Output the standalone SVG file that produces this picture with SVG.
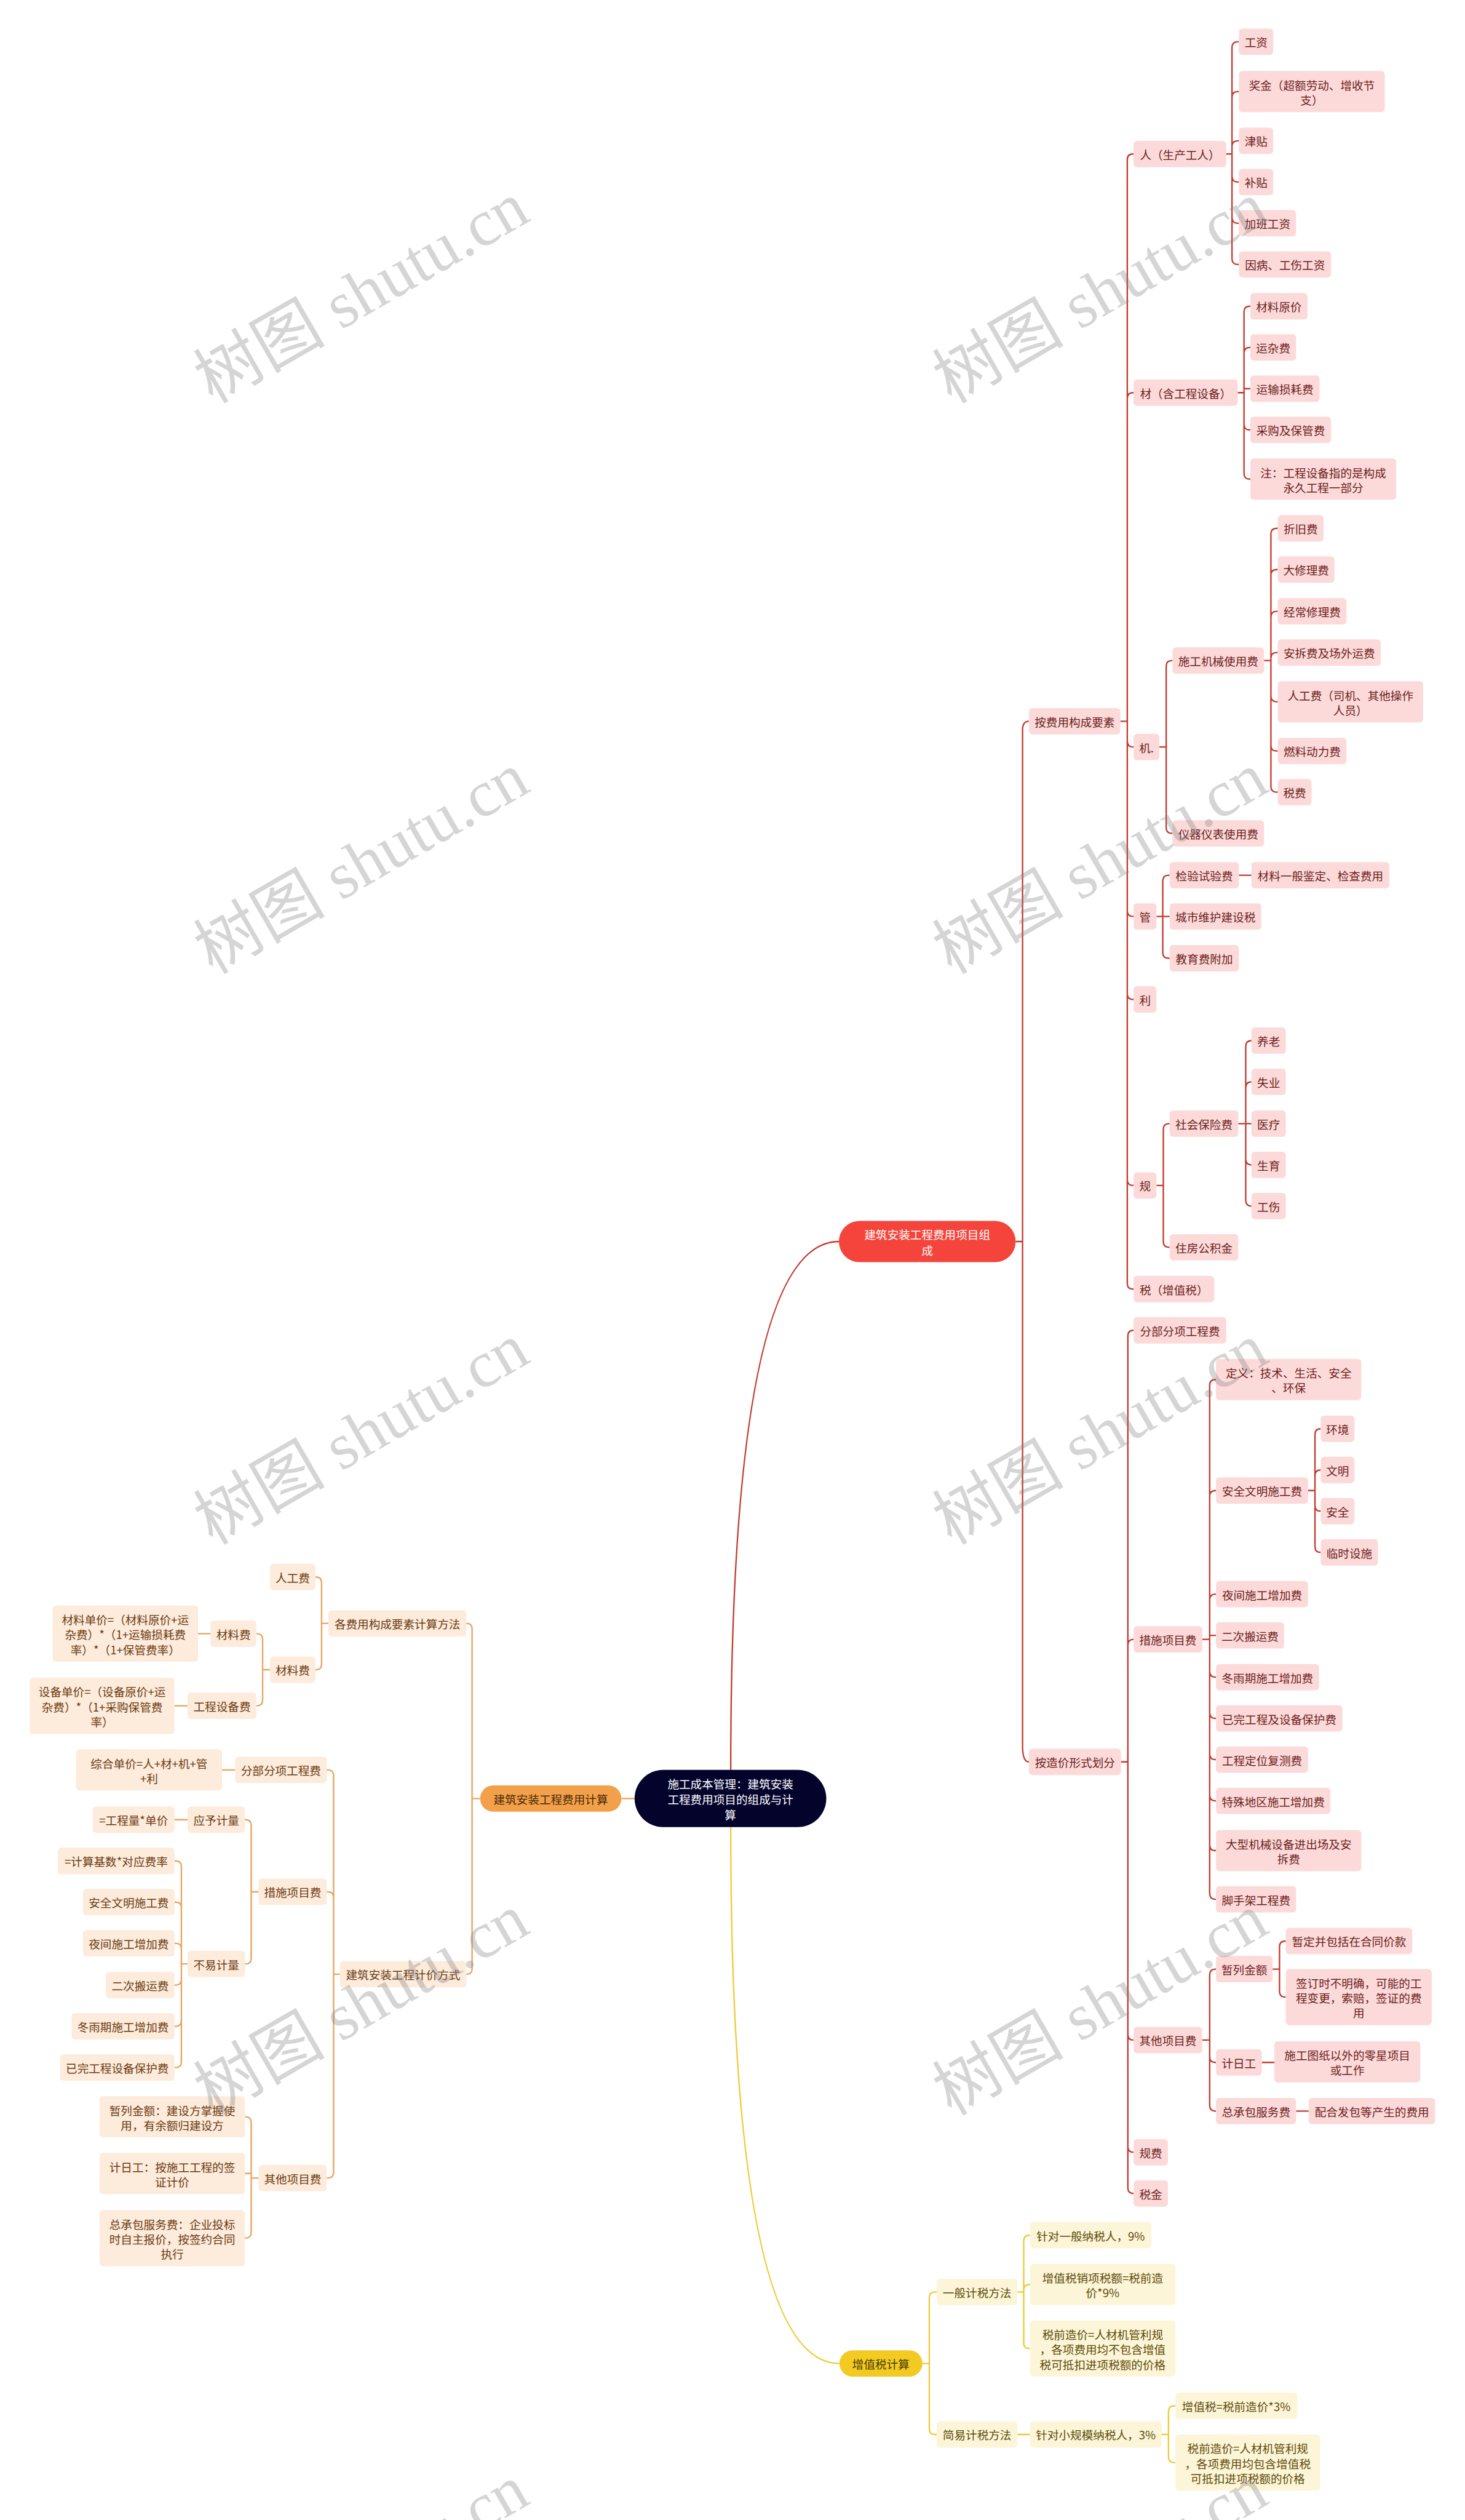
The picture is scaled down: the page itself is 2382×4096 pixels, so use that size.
<svg xmlns="http://www.w3.org/2000/svg" width="2382" height="4096" viewBox="0 0 2382 4096">
<style>
text{font-family:"Noto Sans CJK SC","Noto Sans",sans-serif;font-size:20px;text-anchor:middle;dominant-baseline:central}
.pk rect,.or rect,.ye rect{rx:6px;ry:6px}
.pk rect{fill:#FCDADA}.pk text{fill:#6B1D1B}
.or rect{fill:#FDEBDB}.or text{fill:#6A3A12}
.ye rect{fill:#FDF5D7}.ye text{fill:#5A4A08}
.lr{fill:none;stroke:#C23A30;stroke-width:2.5}
.lo{fill:none;stroke:#E8A45E;stroke-width:2.5}
.ly{fill:none;stroke:#EDCB35;stroke-width:2.5}
.wm{font-family:"Liberation Serif","Noto Sans CJK SC",serif;font-size:115px;fill:#808080;fill-opacity:0.33;dominant-baseline:auto}
</style>
<rect width="2382" height="4096" fill="#FFFFFF"/>
<g transform="scale(0.9304)">
<g id="connectors">
<path class="lr" d="M1277,3092Q1277,2169 1466,2169"/>
<path class="ly" d="M1277,3192Q1277,4129 1467,4129"/>
<path class="lo" d="M1109,3142H1086"/>
<path class="lr" d="M1775,2169H1787V1275Q1787,1260 1798,1260 M1787,2169V3050Q1787,3078 1798,3078"/>
<path class="lr" d="M1958,1260H1970V279Q1970,269 1980,269H1981 M1970,1260V696Q1970,686 1980,686H1981 M1970,1260V1295Q1970,1305 1980,1305H1981 M1970,1260V1591Q1970,1601 1980,1601H1981 M1970,1260V1736Q1970,1746 1980,1746H1981 M1970,1260V2061Q1970,2071 1980,2071H1981 M1970,1260V2242Q1970,2252 1980,2252H1981"/>
<path class="lr" d="M2143,269H2153V83Q2153,73 2163,73H2165 M2153,269V170Q2153,160 2163,160H2165 M2153,269V256Q2153,246 2163,246H2165 M2153,269V308Q2153,318 2163,318H2165 M2153,269V380Q2153,390 2163,390H2165 M2153,269V452Q2153,462 2163,462H2165"/>
<path class="lr" d="M2163,686H2174V545Q2174,535 2184,535H2185 M2174,686V617Q2174,607 2184,607H2185 M2174,686V679H2185 M2174,686V741Q2174,751 2184,751H2185 M2174,686V827Q2174,837 2184,837H2185"/>
<path class="lr" d="M2026,1305H2038V1164Q2038,1154 2048,1154H2049 M2038,1305V1446Q2038,1456 2048,1456H2049"/>
<path class="lr" d="M2209,1154H2221V933Q2221,923 2231,923H2233 M2221,1154V1005Q2221,995 2231,995H2233 M2221,1154V1078Q2221,1068 2231,1068H2233 M2221,1154V1150Q2221,1140 2231,1140H2233 M2221,1154V1216Q2221,1226 2231,1226H2233 M2221,1154V1302Q2221,1312 2231,1312H2233 M2221,1154V1374Q2221,1384 2231,1384H2233"/>
<path class="lr" d="M2021,1601H2032V1539Q2032,1529 2042,1529H2044 M2021,1601H2044 M2032,1601V1664Q2032,1674 2042,1674H2044 M2165,1529H2187"/>
<path class="lr" d="M2021,2071H2033V1973Q2033,1963 2043,1963H2044 M2033,2071V2169Q2033,2179 2043,2179H2044"/>
<path class="lr" d="M2164,1963H2177V1828Q2177,1818 2187,1818 M2177,1963V1900Q2177,1890 2187,1890 M2164,1963H2187 M2177,1963V2025Q2177,2035 2187,2035 M2177,1963V2097Q2177,2107 2187,2107"/>
<path class="lr" d="M1959,3078H1971V2334Q1971,2324 1981,2324 M1971,3078V2874Q1971,2864 1981,2864 M1971,3078V3554Q1971,3564 1981,3564 M1971,3078V3750Q1971,3760 1981,3760 M1971,3078V3822Q1971,3832 1981,3832"/>
<path class="lr" d="M2101,2864H2114V2420Q2114,2410 2124,2410H2125 M2114,2864V2614Q2114,2604 2124,2604H2125 M2114,2864V2795Q2114,2785 2124,2785H2125 M2114,2864V2857H2125 M2114,2864V2920Q2114,2930 2124,2930H2125 M2114,2864V2992Q2114,3002 2124,3002H2125 M2114,2864V3064Q2114,3074 2124,3074H2125 M2114,2864V3136Q2114,3146 2124,3146H2125 M2114,2864V3223Q2114,3233 2124,3233H2125 M2114,2864V3308Q2114,3318 2124,3318H2125"/>
<path class="lr" d="M2286,2604H2298V2506Q2298,2496 2308,2496 M2298,2604V2578Q2298,2568 2308,2568 M2298,2604V2630Q2298,2640 2308,2640 M2298,2604V2702Q2298,2712 2308,2712"/>
<path class="lr" d="M2101,3564H2114V3450Q2114,3440 2124,3440H2125 M2114,3564V3593Q2114,3603 2124,3603H2125 M2114,3564V3678Q2114,3688 2124,3688H2125"/>
<path class="lr" d="M2224,3440H2236V3401Q2236,3391 2246,3391H2247 M2236,3440V3479Q2236,3489 2246,3489H2247 M2205,3603H2227 M2265,3688H2287"/>
<path class="ly" d="M1612,4129H1624V4014Q1624,4004 1634,4004H1637 M1624,4129V4243Q1624,4253 1634,4253H1637"/>
<path class="ly" d="M1778,4004H1789V3915Q1789,3905 1799,3905H1800 M1789,4004V4001Q1789,3991 1799,3991H1800 M1789,4004V4093Q1789,4103 1799,4103H1800 M1778,4253H1800"/>
<path class="ly" d="M2030,4253H2042V4213Q2042,4203 2052,4203H2054 M2042,4253V4292Q2042,4302 2052,4302H2054"/>
<path class="lo" d="M839,3142H825V2846Q825,2836 815,2836 M825,3142V3439Q825,3449 815,3449"/>
<path class="lo" d="M574,2836H562V2765Q562,2755 552,2755H551 M562,2836V2907Q562,2917 552,2917H551"/>
<path class="lo" d="M472,2917H459V2864Q459,2854 449,2854H448 M459,2917V2970Q459,2980 449,2980H448 M368,2854H346 M328,2980H305"/>
<path class="lo" d="M594,3449H583V3102Q583,3092 573,3092H571 M583,3449V3315Q583,3305 573,3305H571 M583,3449V3795Q583,3805 573,3805H571 M411,3092H388"/>
<path class="lo" d="M452,3305H439V3189Q439,3179 429,3179H428 M439,3305V3421Q439,3431 429,3431H428 M328,3179H305"/>
<path class="lo" d="M328,3431H317V3261Q317,3251 307,3251H305 M317,3431V3333Q317,3323 307,3323H305 M317,3431V3405Q317,3395 307,3395H305 M317,3431V3458Q317,3468 307,3468H305 M317,3431V3530Q317,3540 307,3540H305 M317,3431V3602Q317,3612 307,3612H305"/>
<path class="lo" d="M452,3805H439V3708Q439,3698 429,3698H428 M439,3805V3797H428 M439,3805V3900Q439,3910 429,3910H428"/>
</g>

<g id="n_root"><rect x="1109" y="3092" width="335" height="100" rx="50" fill="#03032B"/><text fill="#FFFFFF"><tspan x="1276.5" y="3115">施工成本管理：建筑安装</tspan><tspan x="1276.5" y="3142">工程费用项目的组成与计</tspan><tspan x="1276.5" y="3169">算</tspan></text></g>
<g id="n_red"><rect x="1466" y="2133" width="309" height="72" rx="36" fill="#F5443B"/><text fill="#FFFFFF"><tspan x="1620.5" y="2155.5">建筑安装工程费用项目组</tspan><tspan x="1620.5" y="2182.5">成</tspan></text></g>
<g id="n_org"><rect x="839" y="3119" width="247" height="46" rx="23" fill="#F2A14A"/><text x="962.5" y="3142" fill="#4A2808">建筑安装工程费用计算</text></g>
<g id="n_yel"><rect x="1467" y="4106" width="145" height="46" rx="23" fill="#F2CA22"/><text x="1539.5" y="4129" fill="#4A3A00">增值税计算</text></g>

<g class="pk">
<g id="n1"><rect x="1798" y="1237" width="160" height="46"/><text x="1878" y="1260">按费用构成要素</text></g>
<g id="n2"><rect x="1981" y="246" width="162" height="46"/><text x="2062" y="269">人（生产工人）</text></g>
<g id="n3"><rect x="2165" y="50" width="60" height="46"/><text x="2195" y="73">工资</text></g>
<g id="n4"><rect x="2165" y="124" width="255" height="72"/><text><tspan x="2292.5" y="147">奖金（超额劳动、增收节</tspan><tspan x="2292.5" y="173">支）</tspan></text></g>
<g id="n5"><rect x="2165" y="223" width="60" height="46"/><text x="2195" y="246">津贴</text></g>
<g id="n6"><rect x="2165" y="295" width="60" height="46"/><text x="2195" y="318">补贴</text></g>
<g id="n7"><rect x="2165" y="367" width="100" height="46"/><text x="2215" y="390">加班工资</text></g>
<g id="n8"><rect x="2165" y="439" width="161" height="46"/><text x="2245.5" y="462">因病、工伤工资</text></g>
<g id="n9"><rect x="1981" y="663" width="182" height="46"/><text x="2072" y="686">材（含工程设备）</text></g>
<g id="n10"><rect x="2185" y="512" width="100" height="46"/><text x="2235" y="535">材料原价</text></g>
<g id="n11"><rect x="2185" y="584" width="80" height="46"/><text x="2225" y="607">运杂费</text></g>
<g id="n12"><rect x="2185" y="656" width="121" height="46"/><text x="2245.5" y="679">运输损耗费</text></g>
<g id="n13"><rect x="2185" y="728" width="141" height="46"/><text x="2255.5" y="751">采购及保管费</text></g>
<g id="n14"><rect x="2185" y="801" width="255" height="72"/><text><tspan x="2312.5" y="824">注：工程设备指的是构成</tspan><tspan x="2312.5" y="850">永久工程一部分</tspan></text></g>
<g id="n15"><rect x="1981" y="1282" width="45" height="46"/><text x="2003.5" y="1305">机.</text></g>
<g id="n16"><rect x="2049" y="1131" width="160" height="46"/><text x="2129" y="1154">施工机械使用费</text></g>
<g id="n17"><rect x="2233" y="900" width="80" height="46"/><text x="2273" y="923">折旧费</text></g>
<g id="n18"><rect x="2233" y="972" width="99" height="46"/><text x="2282.5" y="995">大修理费</text></g>
<g id="n19"><rect x="2233" y="1045" width="120" height="46"/><text x="2293" y="1068">经常修理费</text></g>
<g id="n20"><rect x="2233" y="1117" width="180" height="46"/><text x="2323" y="1140">安拆费及场外运费</text></g>
<g id="n21"><rect x="2233" y="1190" width="254" height="72"/><text><tspan x="2360" y="1213">人工费（司机、其他操作</tspan><tspan x="2360" y="1239">人员）</tspan></text></g>
<g id="n22"><rect x="2233" y="1289" width="120" height="46"/><text x="2293" y="1312">燃料动力费</text></g>
<g id="n23"><rect x="2233" y="1361" width="59" height="46"/><text x="2262.5" y="1384">税费</text></g>
<g id="n24"><rect x="2049" y="1433" width="160" height="46"/><text x="2129" y="1456">仪器仪表使用费</text></g>
<g id="n25"><rect x="1981" y="1578" width="40" height="46"/><text x="2001" y="1601">管</text></g>
<g id="n26"><rect x="2044" y="1506" width="121" height="46"/><text x="2104.5" y="1529">检验试验费</text></g>
<g id="n27"><rect x="2187" y="1506" width="241" height="46"/><text x="2307.5" y="1529">材料一般鉴定、检查费用</text></g>
<g id="n28"><rect x="2044" y="1578" width="160" height="46"/><text x="2124" y="1601">城市维护建设税</text></g>
<g id="n29"><rect x="2044" y="1651" width="121" height="46"/><text x="2104.5" y="1674">教育费附加</text></g>
<g id="n30"><rect x="1981" y="1723" width="40" height="46"/><text x="2001" y="1746">利</text></g>
<g id="n31"><rect x="1981" y="2048" width="40" height="46"/><text x="2001" y="2071">规</text></g>
<g id="n32"><rect x="2044" y="1940" width="120" height="46"/><text x="2104" y="1963">社会保险费</text></g>
<g id="n33"><rect x="2187" y="1795" width="60" height="46"/><text x="2217" y="1818">养老</text></g>
<g id="n34"><rect x="2187" y="1867" width="60" height="46"/><text x="2217" y="1890">失业</text></g>
<g id="n35"><rect x="2187" y="1940" width="60" height="46"/><text x="2217" y="1963">医疗</text></g>
<g id="n36"><rect x="2187" y="2012" width="60" height="46"/><text x="2217" y="2035">生育</text></g>
<g id="n37"><rect x="2187" y="2084" width="60" height="46"/><text x="2217" y="2107">工伤</text></g>
<g id="n38"><rect x="2044" y="2156" width="120" height="46"/><text x="2104" y="2179">住房公积金</text></g>
<g id="n39"><rect x="1981" y="2229" width="141" height="46"/><text x="2051.5" y="2252">税（增值税）</text></g>
<g id="n40"><rect x="1798" y="3055" width="161" height="46"/><text x="1878.5" y="3078">按造价形式划分</text></g>
<g id="n41"><rect x="1981" y="2301" width="162" height="46"/><text x="2062" y="2324">分部分项工程费</text></g>
<g id="n42"><rect x="1981" y="2841" width="120" height="46"/><text x="2041" y="2864">措施项目费</text></g>
<g id="n43"><rect x="2125" y="2374" width="254" height="72"/><text><tspan x="2252" y="2397">定义：技术、生活、安全</tspan><tspan x="2252" y="2423">、环保</tspan></text></g>
<g id="n44"><rect x="2125" y="2581" width="161" height="46"/><text x="2205.5" y="2604">安全文明施工费</text></g>
<g id="n45"><rect x="2308" y="2473" width="59" height="46"/><text x="2337.5" y="2496">环境</text></g>
<g id="n46"><rect x="2308" y="2545" width="59" height="46"/><text x="2337.5" y="2568">文明</text></g>
<g id="n47"><rect x="2308" y="2617" width="59" height="46"/><text x="2337.5" y="2640">安全</text></g>
<g id="n48"><rect x="2308" y="2689" width="100" height="46"/><text x="2358" y="2712">临时设施</text></g>
<g id="n49"><rect x="2125" y="2762" width="161" height="46"/><text x="2205.5" y="2785">夜间施工增加费</text></g>
<g id="n50"><rect x="2125" y="2834" width="119" height="46"/><text x="2184.5" y="2857">二次搬运费</text></g>
<g id="n51"><rect x="2125" y="2907" width="180" height="46"/><text x="2215" y="2930">冬雨期施工增加费</text></g>
<g id="n52"><rect x="2125" y="2979" width="221" height="46"/><text x="2235.5" y="3002">已完工程及设备保护费</text></g>
<g id="n53"><rect x="2125" y="3051" width="161" height="46"/><text x="2205.5" y="3074">工程定位复测费</text></g>
<g id="n54"><rect x="2125" y="3123" width="200" height="46"/><text x="2225" y="3146">特殊地区施工增加费</text></g>
<g id="n55"><rect x="2125" y="3197" width="254" height="72"/><text><tspan x="2252" y="3220">大型机械设备进出场及安</tspan><tspan x="2252" y="3246">拆费</tspan></text></g>
<g id="n56"><rect x="2125" y="3295" width="140" height="46"/><text x="2195" y="3318">脚手架工程费</text></g>
<g id="n57"><rect x="1981" y="3541" width="120" height="46"/><text x="2041" y="3564">其他项目费</text></g>
<g id="n58"><rect x="2125" y="3417" width="99" height="46"/><text x="2174.5" y="3440">暂列金额</text></g>
<g id="n59"><rect x="2247" y="3368" width="221" height="46"/><text x="2357.5" y="3391">暂定并包括在合同价款</text></g>
<g id="n60"><rect x="2247" y="3440" width="255" height="98"/><text><tspan x="2374.5" y="3463">签订时不明确，可能的工</tspan><tspan x="2374.5" y="3489">程变更，索赔，签证的费</tspan><tspan x="2374.5" y="3515">用</tspan></text></g>
<g id="n61"><rect x="2125" y="3580" width="80" height="46"/><text x="2165" y="3603">计日工</text></g>
<g id="n62"><rect x="2227" y="3566" width="255" height="72"/><text><tspan x="2354.5" y="3589">施工图纸以外的零星项目</tspan><tspan x="2354.5" y="3615">或工作</tspan></text></g>
<g id="n63"><rect x="2125" y="3665" width="140" height="46"/><text x="2195" y="3688">总承包服务费</text></g>
<g id="n64"><rect x="2287" y="3665" width="221" height="46"/><text x="2397.5" y="3688">配合发包等产生的费用</text></g>
<g id="n65"><rect x="1981" y="3737" width="60" height="46"/><text x="2011" y="3760">规费</text></g>
<g id="n66"><rect x="1981" y="3809" width="60" height="46"/><text x="2011" y="3832">税金</text></g>
</g>

<g class="ye">
<g id="n67"><rect x="1637" y="3981" width="141" height="46"/><text x="1707.5" y="4004">一般计税方法</text></g>
<g id="n68"><rect x="1800" y="3882" width="212" height="46"/><text x="1906" y="3905">针对一般纳税人，9%</text></g>
<g id="n69"><rect x="1800" y="3955" width="254" height="72"/><text><tspan x="1927" y="3978">增值税销项税额=税前造</tspan><tspan x="1927" y="4004">价*9%</tspan></text></g>
<g id="n70"><rect x="1800" y="4054" width="254" height="98"/><text><tspan x="1927" y="4077">税前造价=人材机管利规</tspan><tspan x="1927" y="4103">，各项费用均不包含增值</tspan><tspan x="1927" y="4129">税可抵扣进项税额的价格</tspan></text></g>
<g id="n71"><rect x="1637" y="4230" width="141" height="46"/><text x="1707.5" y="4253">简易计税方法</text></g>
<g id="n72"><rect x="1800" y="4230" width="230" height="46"/><text x="1915" y="4253">针对小规模纳税人，3%</text></g>
<g id="n73"><rect x="2054" y="4180" width="213" height="46"/><text x="2160.5" y="4203">增值税=税前造价*3%</text></g>
<g id="n74"><rect x="2054" y="4253" width="253" height="98"/><text><tspan x="2180.5" y="4276">税前造价=人材机管利规</tspan><tspan x="2180.5" y="4302">，各项费用均包含增值税</tspan><tspan x="2180.5" y="4328">可抵扣进项税额的价格</tspan></text></g>
</g>

<g class="or">
<g id="n75"><rect x="574" y="2813" width="241" height="46"/><text x="694.5" y="2836">各费用构成要素计算方法</text></g>
<g id="n76"><rect x="472" y="2732" width="79" height="46"/><text x="511.5" y="2755">人工费</text></g>
<g id="n77"><rect x="472" y="2894" width="79" height="46"/><text x="511.5" y="2917">材料费</text></g>
<g id="n78"><rect x="368" y="2831" width="80" height="46"/><text x="408" y="2854">材料费</text></g>
<g id="n79"><rect x="92" y="2805" width="254" height="98"/><text><tspan x="219" y="2828">材料单价=（材料原价+运</tspan><tspan x="219" y="2854">杂费）*（1+运输损耗费</tspan><tspan x="219" y="2880">率）*（1+保管费率）</tspan></text></g>
<g id="n80"><rect x="328" y="2957" width="120" height="46"/><text x="388" y="2980">工程设备费</text></g>
<g id="n81"><rect x="52" y="2931" width="253" height="98"/><text><tspan x="178.5" y="2954">设备单价=（设备原价+运</tspan><tspan x="178.5" y="2980">杂费）*（1+采购保管费</tspan><tspan x="178.5" y="3006">率）</tspan></text></g>
<g id="n82"><rect x="594" y="3426" width="221" height="46"/><text x="704.5" y="3449">建筑安装工程计价方式</text></g>
<g id="n83"><rect x="411" y="3069" width="160" height="46"/><text x="491" y="3092">分部分项工程费</text></g>
<g id="n84"><rect x="133" y="3056" width="255" height="72"/><text><tspan x="260.5" y="3079">综合单价=人+材+机+管</tspan><tspan x="260.5" y="3105">+利</tspan></text></g>
<g id="n85"><rect x="452" y="3282" width="119" height="46"/><text x="511.5" y="3305">措施项目费</text></g>
<g id="n86"><rect x="328" y="3156" width="100" height="46"/><text x="378" y="3179">应予计量</text></g>
<g id="n87"><rect x="162" y="3156" width="143" height="46"/><text x="233.5" y="3179">=工程量*单价</text></g>
<g id="n88"><rect x="328" y="3408" width="100" height="46"/><text x="378" y="3431">不易计量</text></g>
<g id="n89"><rect x="101" y="3228" width="204" height="46"/><text x="203" y="3251">=计算基数*对应费率</text></g>
<g id="n90"><rect x="145" y="3300" width="160" height="46"/><text x="225" y="3323">安全文明施工费</text></g>
<g id="n91"><rect x="145" y="3372" width="160" height="46"/><text x="225" y="3395">夜间施工增加费</text></g>
<g id="n92"><rect x="185" y="3445" width="120" height="46"/><text x="245" y="3468">二次搬运费</text></g>
<g id="n93"><rect x="125" y="3517" width="180" height="46"/><text x="215" y="3540">冬雨期施工增加费</text></g>
<g id="n94"><rect x="105" y="3589" width="200" height="46"/><text x="205" y="3612">已完工程设备保护费</text></g>
<g id="n95"><rect x="452" y="3782" width="119" height="46"/><text x="511.5" y="3805">其他项目费</text></g>
<g id="n96"><rect x="174" y="3662" width="254" height="72"/><text><tspan x="301" y="3685">暂列金额：建设方掌握使</tspan><tspan x="301" y="3711">用，有余额归建设方</tspan></text></g>
<g id="n97"><rect x="174" y="3761" width="254" height="72"/><text><tspan x="301" y="3784">计日工：按施工工程的签</tspan><tspan x="301" y="3810">证计价</tspan></text></g>
<g id="n98"><rect x="174" y="3861" width="254" height="98"/><text><tspan x="301" y="3884">总承包服务费：企业投标</tspan><tspan x="301" y="3910">时自主报价，按签约合同</tspan><tspan x="301" y="3936">执行</tspan></text></g>
</g>

<g id="watermark">
<text class="wm" transform="translate(651,545) rotate(-30)">树图 shutu.cn</text>
<text class="wm" transform="translate(1942,545) rotate(-30)">树图 shutu.cn</text>
<text class="wm" transform="translate(651,1542) rotate(-30)">树图 shutu.cn</text>
<text class="wm" transform="translate(1942,1542) rotate(-30)">树图 shutu.cn</text>
<text class="wm" transform="translate(651,2539) rotate(-30)">树图 shutu.cn</text>
<text class="wm" transform="translate(1942,2539) rotate(-30)">树图 shutu.cn</text>
<text class="wm" transform="translate(651,3536) rotate(-30)">树图 shutu.cn</text>
<text class="wm" transform="translate(1942,3536) rotate(-30)">树图 shutu.cn</text>
<text class="wm" transform="translate(651,4533) rotate(-30)">树图 shutu.cn</text>
<text class="wm" transform="translate(1942,4533) rotate(-30)">树图 shutu.cn</text>
</g>
</g>
</svg>
